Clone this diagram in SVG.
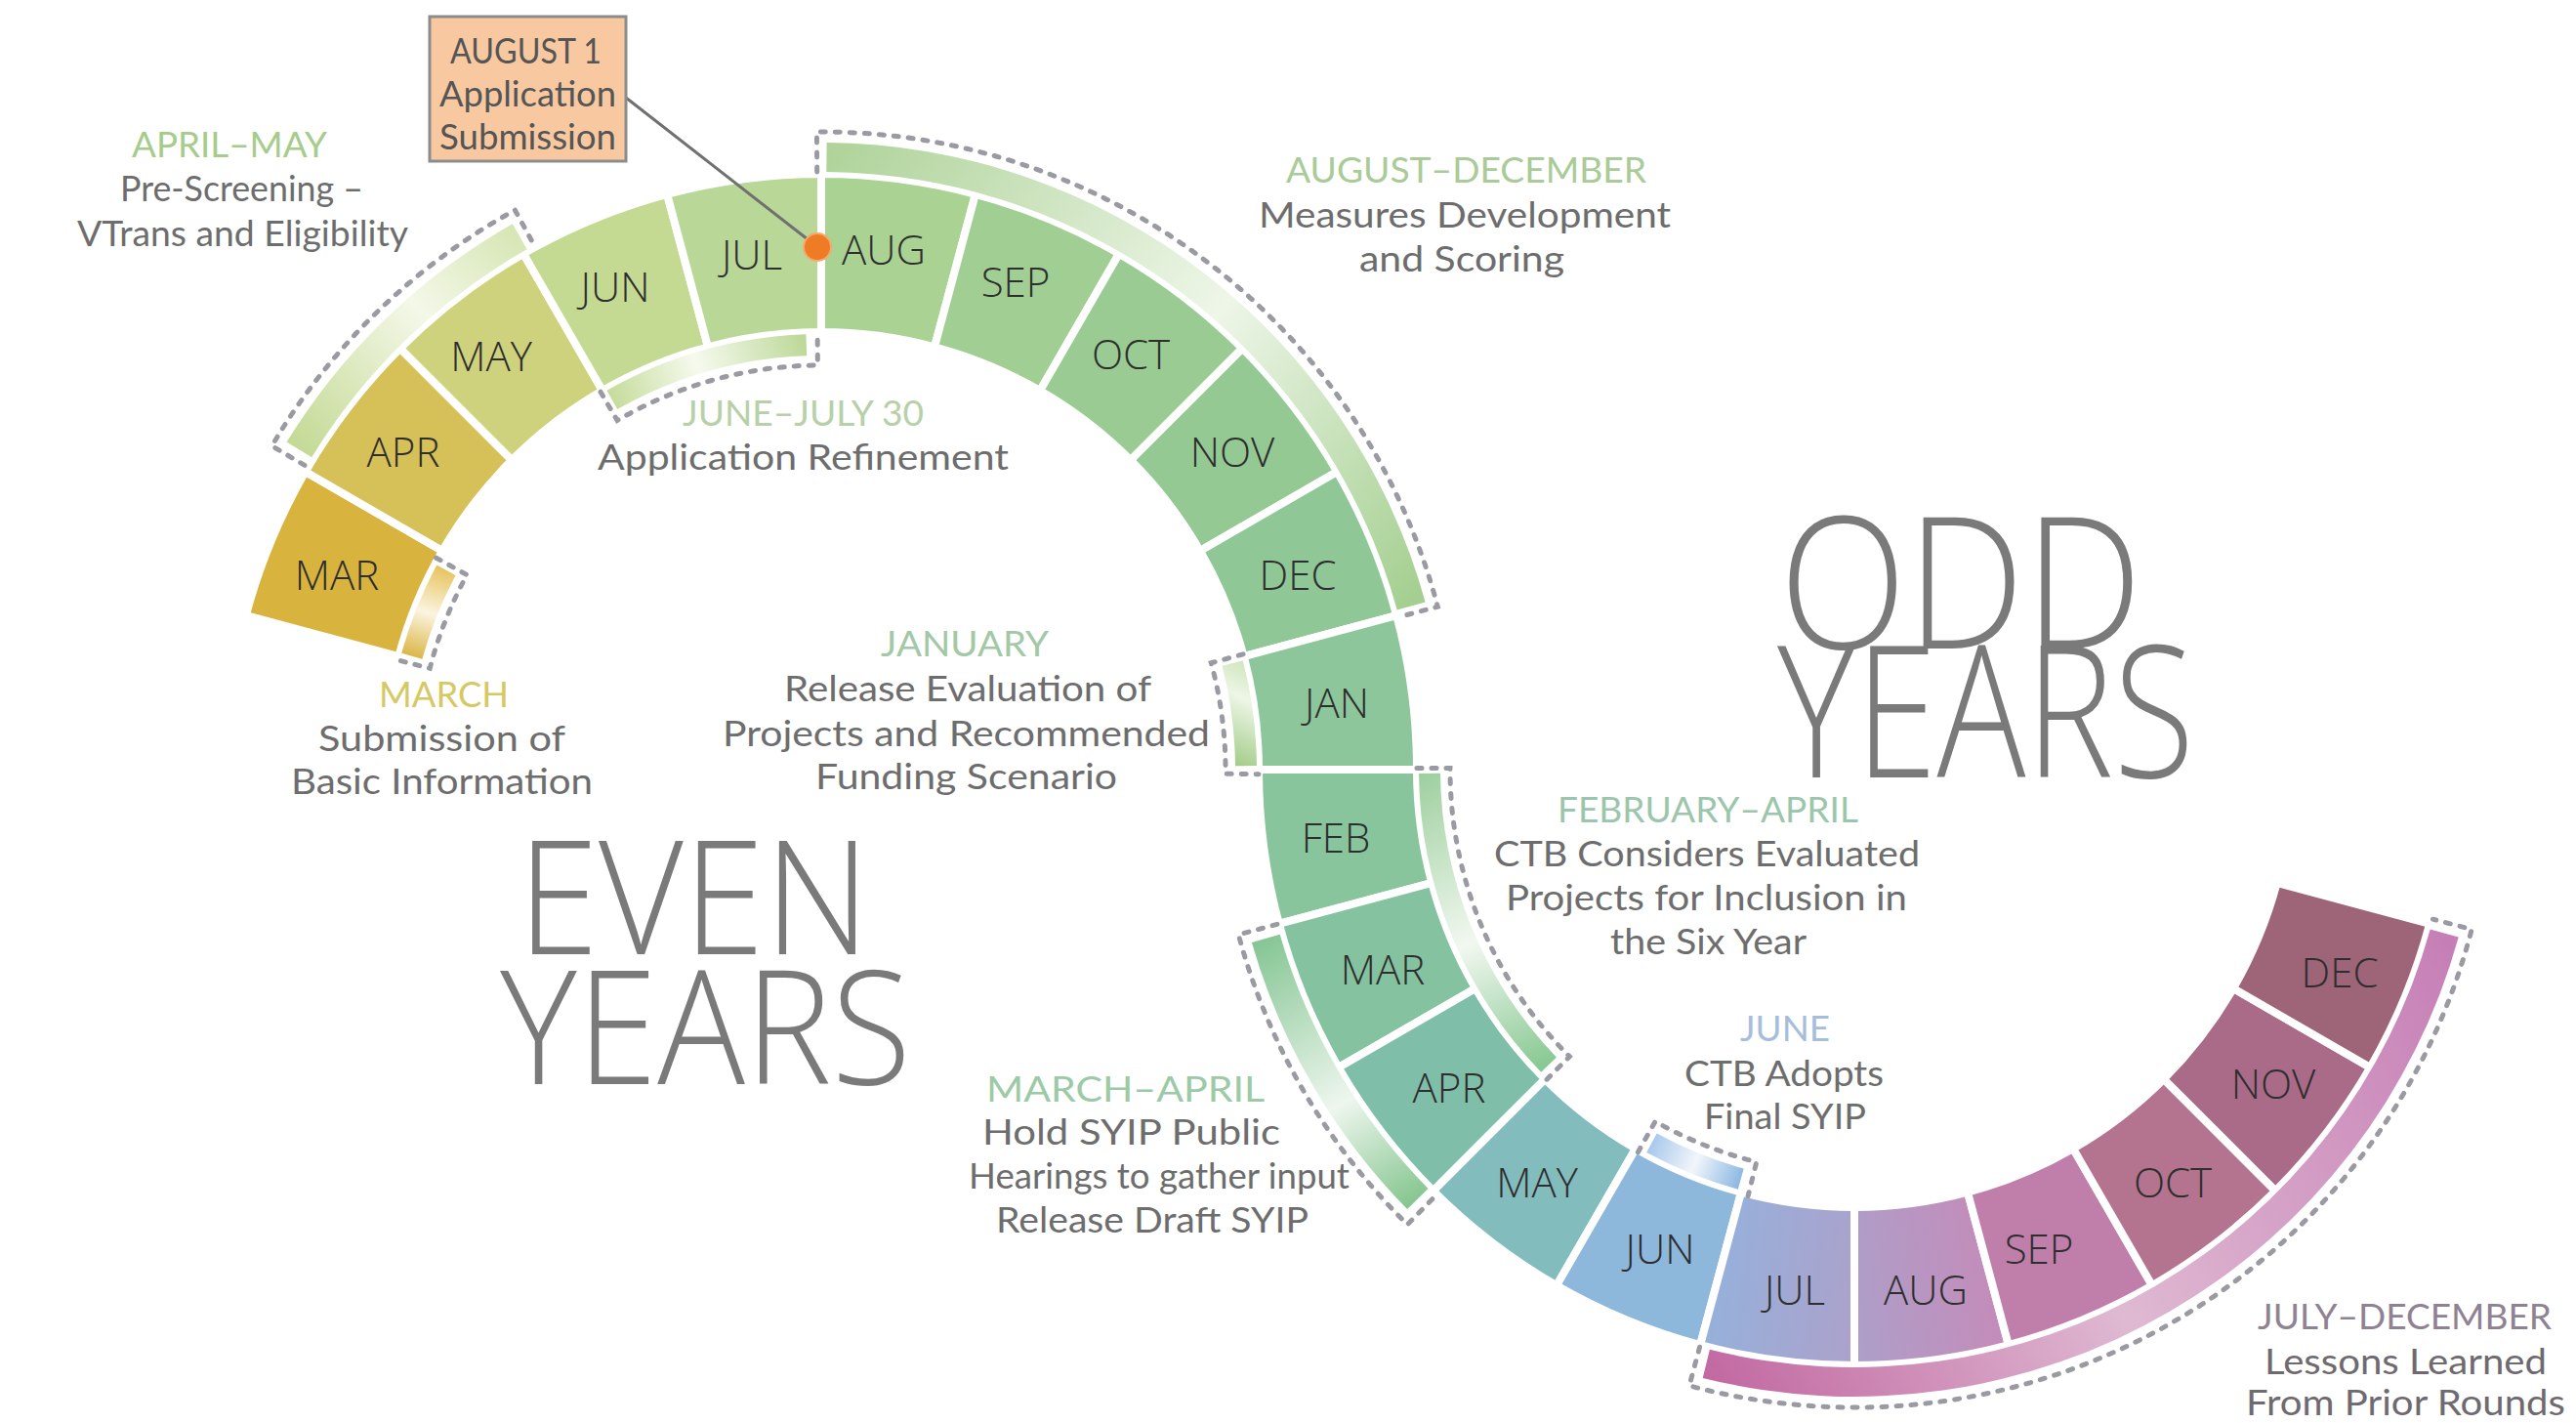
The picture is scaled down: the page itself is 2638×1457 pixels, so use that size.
<svg xmlns="http://www.w3.org/2000/svg" width="2638" height="1457" viewBox="0 0 2638 1457">
<style>
.seg{stroke:#fff;stroke-width:8;stroke-linejoin:miter}
.mon{font-family:"Open Sans","Noto Sans",sans-serif;font-weight:300;font-size:42px;fill:#2e2e2e;text-anchor:middle}
.dash{fill:none;stroke:#9a9ba2;stroke-width:5;stroke-dasharray:5 10;stroke-linecap:round}
.t{font-family:Lato,"Open Sans",sans-serif;font-size:37px;fill:#6d6d6d}
.hg{fill:#a6cc8c}
.big{font-family:"Open Sans","Noto Sans",sans-serif;font-weight:300;fill:#7a7a7a}
</style>
<defs>
<linearGradient id="gAprMay" gradientUnits="userSpaceOnUse" x1="300" y1="460" x2="532" y2="240"><stop offset="0" stop-color="#c3d993"/><stop offset="0.6" stop-color="#f4f8e8"/><stop offset="1" stop-color="#d6e6b4"/></linearGradient>
<linearGradient id="gJunJul" gradientUnits="userSpaceOnUse" x1="627" y1="410" x2="826" y2="353"><stop offset="0" stop-color="#c6dc9c"/><stop offset="0.45" stop-color="#f6faee"/><stop offset="1" stop-color="#bcd898"/></linearGradient>
<linearGradient id="gAugDec" gradientUnits="userSpaceOnUse" x1="846" y1="160" x2="1445" y2="620"><stop offset="0" stop-color="#afd39a"/><stop offset="0.55" stop-color="#eef6e8"/><stop offset="1" stop-color="#a4cf90"/></linearGradient>
<linearGradient id="gMarch" gradientUnits="userSpaceOnUse" x1="450" y1="578" x2="420" y2="675"><stop offset="0" stop-color="#e6c25a"/><stop offset="0.5" stop-color="#fbf4e0"/><stop offset="1" stop-color="#d9b13c"/></linearGradient>
<linearGradient id="gJan" gradientUnits="userSpaceOnUse" x1="1250" y1="780" x2="1290" y2="690"><stop offset="0" stop-color="#9fcb86"/><stop offset="0.7" stop-color="#eef6e6"/><stop offset="1" stop-color="#d4e9c4"/></linearGradient>
<linearGradient id="gFebApr" gradientUnits="userSpaceOnUse" x1="1464" y1="792" x2="1586" y2="1090"><stop offset="0" stop-color="#9fd0a0"/><stop offset="0.55" stop-color="#f2f8f0"/><stop offset="1" stop-color="#88c892"/></linearGradient>
<linearGradient id="gMarApr" gradientUnits="userSpaceOnUse" x1="1296" y1="961" x2="1452" y2="1228"><stop offset="0" stop-color="#86c694"/><stop offset="0.6" stop-color="#eef6ee"/><stop offset="1" stop-color="#86c690"/></linearGradient>
<linearGradient id="gJune" gradientUnits="userSpaceOnUse" x1="1691" y1="1170" x2="1783" y2="1207"><stop offset="0" stop-color="#a8c8ec"/><stop offset="0.5" stop-color="#f2f6fb"/><stop offset="1" stop-color="#8cb8e2"/></linearGradient>
<linearGradient id="gJulDec" gradientUnits="userSpaceOnUse" x1="1747" y1="1396" x2="2503" y2="955"><stop offset="0" stop-color="#c26aa2"/><stop offset="0.45" stop-color="#dfb9d2"/><stop offset="1" stop-color="#c67fb6"/></linearGradient>
<linearGradient id="gOddJul" gradientUnits="userSpaceOnUse" x1="1740" y1="1300" x2="1899" y2="1320"><stop offset="0" stop-color="#94b2dc"/><stop offset="1" stop-color="#aaa2cc"/></linearGradient>
<linearGradient id="gOddAug" gradientUnits="userSpaceOnUse" x1="1899" y1="1320" x2="2057" y2="1300"><stop offset="0" stop-color="#ae9ec8"/><stop offset="1" stop-color="#c68ab8"/></linearGradient>
</defs>
<rect width="2638" height="1457" fill="#ffffff"/>

<!-- Even years ring -->
<g id="even-mar"><path class="seg" fill="#d8b43e" d="M 251.8 630.1 A 610 610 0 0 1 312.7 483.0 L 453.0 564.0 A 448 448 0 0 0 408.3 672.1 Z"/><text class="mon" x="345" y="604">MAR</text></g>
<g id="even-apr"><path class="seg" fill="#d6c058" d="M 312.7 483.0 A 610 610 0 0 1 409.7 356.7 L 524.2 471.2 A 448 448 0 0 0 453.0 564.0 Z"/><text class="mon" x="413" y="478">APR</text></g>
<g id="even-may"><path class="seg" fill="#cfd27c" d="M 409.7 356.7 A 610 610 0 0 1 536.0 259.7 L 617.0 400.0 A 448 448 0 0 0 524.2 471.2 Z"/><text class="mon" x="503" y="380">MAY</text></g>
<g id="even-jun"><path class="seg" fill="#c4da92" d="M 536.0 259.7 A 610 610 0 0 1 683.1 198.8 L 725.0 355.3 A 448 448 0 0 0 617.0 400.0 Z"/><text class="mon" x="630" y="309">JUN</text></g>
<g id="even-jul"><path class="seg" fill="#b9d797" d="M 683.1 198.8 A 610 610 0 0 1 841 178 L 841 340 A 448 448 0 0 0 725.0 355.3 Z"/><text class="mon" x="770" y="276">JUL</text></g>
<g id="even-aug"><path class="seg" fill="#aad293" d="M 841 178 A 610 610 0 0 1 998.9 198.8 L 957.0 355.3 A 448 448 0 0 0 841 340 Z"/><text class="mon" x="905" y="271">AUG</text></g>
<g id="even-sep"><path class="seg" fill="#a1ce93" d="M 998.9 198.8 A 610 610 0 0 1 1146.0 259.7 L 1065.0 400.0 A 448 448 0 0 0 957.0 355.3 Z"/><text class="mon" x="1040" y="304">SEP</text></g>
<g id="even-oct"><path class="seg" fill="#99cb93" d="M 1146.0 259.7 A 610 610 0 0 1 1272.3 356.7 L 1157.8 471.2 A 448 448 0 0 0 1065.0 400.0 Z"/><text class="mon" x="1158" y="378">OCT</text></g>
<g id="even-nov"><path class="seg" fill="#94c994" d="M 1272.3 356.7 A 610 610 0 0 1 1369.3 483.0 L 1229.0 564.0 A 448 448 0 0 0 1157.8 471.2 Z"/><text class="mon" x="1262" y="478">NOV</text></g>
<g id="even-dec"><path class="seg" fill="#90c796" d="M 1369.3 483.0 A 610 610 0 0 1 1430.2 630.1 L 1273.7 672.1 A 448 448 0 0 0 1229.0 564.0 Z"/><text class="mon" x="1329" y="604">DEC</text></g>
<g id="even-jan"><path class="seg" fill="#8cc69a" d="M 1430.2 630.1 A 610 610 0 0 1 1451 788 L 1289 788 A 448 448 0 0 0 1273.7 672.1 Z"/><text class="mon" x="1369" y="735">JAN</text></g>

<!-- Odd years ring -->
<g id="odd-feb"><path class="seg" fill="#89c59c" d="M 1289 788 A 610 610 0 0 0 1309.8 945.9 L 1466.3 904.0 A 448 448 0 0 1 1451 788 Z"/><text class="mon" x="1368" y="873">FEB</text></g>
<g id="odd-mar"><path class="seg" fill="#84c2a0" d="M 1309.8 945.9 A 610 610 0 0 0 1370.7 1093 L 1511.0 1012 A 448 448 0 0 1 1466.3 904.0 Z"/><text class="mon" x="1416" y="1008">MAR</text></g>
<g id="odd-apr"><path class="seg" fill="#7fbea8" d="M 1370.7 1093 A 610 610 0 0 0 1467.7 1219.3 L 1582.2 1104.8 A 448 448 0 0 1 1511.0 1012 Z"/><text class="mon" x="1484" y="1129">APR</text></g>
<g id="odd-may"><path class="seg" fill="#82bcbc" d="M 1467.7 1219.3 A 610 610 0 0 0 1594 1316.3 L 1675 1176.0 A 448 448 0 0 1 1582.2 1104.8 Z"/><text class="mon" x="1574" y="1226">MAY</text></g>
<g id="odd-jun"><path class="seg" fill="#8db8dc" d="M 1594 1316.3 A 610 610 0 0 0 1741.1 1377.2 L 1783.1 1220.7 A 448 448 0 0 1 1675 1176.0 Z"/><text class="mon" x="1700" y="1294">JUN</text></g>
<g id="odd-jul"><path class="seg" fill="url(#gOddJul)" d="M 1741.1 1377.2 A 610 610 0 0 0 1899 1398 L 1899 1236 A 448 448 0 0 1 1783.1 1220.7 Z"/><text class="mon" x="1838" y="1336">JUL</text></g>
<g id="odd-aug"><path class="seg" fill="url(#gOddAug)" d="M 1899 1398 A 610 610 0 0 0 2056.9 1377.2 L 2015.0 1220.7 A 448 448 0 0 1 1899 1236 Z"/><text class="mon" x="1972" y="1336">AUG</text></g>
<g id="odd-sep"><path class="seg" fill="#c07fab" d="M 2056.9 1377.2 A 610 610 0 0 0 2204 1316.3 L 2123 1176.0 A 448 448 0 0 1 2015.0 1220.7 Z"/><text class="mon" x="2088" y="1294">SEP</text></g>
<g id="odd-oct"><path class="seg" fill="#b47490" d="M 2204 1316.3 A 610 610 0 0 0 2330.3 1219.3 L 2215.8 1104.8 A 448 448 0 0 1 2123 1176.0 Z"/><text class="mon" x="2225" y="1226">OCT</text></g>
<g id="odd-nov"><path class="seg" fill="#aa6b88" d="M 2330.3 1219.3 A 610 610 0 0 0 2427.3 1093 L 2287.0 1012 A 448 448 0 0 1 2215.8 1104.8 Z"/><text class="mon" x="2328" y="1125">NOV</text></g>
<g id="odd-dec"><path class="seg" fill="#9e6579" d="M 2427.3 1093 A 610 610 0 0 0 2488.2 945.9 L 2331.7 904.0 A 448 448 0 0 1 2287.0 1012 Z"/><text class="mon" x="2396" y="1011">DEC</text></g>

<!-- Phase bands with labels -->
<g id="phase-april-may">
<path fill="url(#gAprMay)" d="M 293.6 452.6 A 642 642 0 0 1 524.9 229.2 L 539.6 255.3 A 612 612 0 0 0 319.2 468.2 Z"/>
<path class="dash" d="M 312.0 476.4 L 278.4 456.6 A 653 653 0 0 1 527.4 215.2 L 546.1 249.4"/>
<text class="t hg" x="135" y="161" textLength="200" lengthAdjust="spacingAndGlyphs">APRIL–MAY</text>
<text class="t" x="123" y="206" textLength="249" lengthAdjust="spacingAndGlyphs">Pre-Screening –</text>
<text class="t" x="79" y="252" textLength="339" lengthAdjust="spacingAndGlyphs">VTrans and Eligibility</text>
</g>
<g id="phase-june-july">
<path fill="url(#gJunJul)" d="M 621.4 399.8 A 446 446 0 0 1 825.4 342.3 L 826.2 364.3 A 424 424 0 0 0 632.2 419.0 Z"/>
<path class="dash" d="M 615.0 401.2 L 632.1 430.5 A 414 414 0 0 1 837.4 374.0 L 837.1 340.0"/>
<text class="t" x="699" y="436" textLength="247" lengthAdjust="spacingAndGlyphs" style="fill:#b8d0a8">JUNE–JULY 30</text>
<text class="t" x="612" y="481" textLength="421" lengthAdjust="spacingAndGlyphs">Application Refinement</text>
</g>
<g id="phase-aug-dec">
<path fill="url(#gAugDec)" d="M 846.6 146.0 A 642 642 0 0 1 1459.6 616.4 L 1430.7 624.5 A 612 612 0 0 0 846.3 176.0 Z"/>
<path class="dash" d="M 836.7 176.0 L 836.4 135.0 A 653 653 0 0 1 1472.3 621.2 L 1432.7 631.7"/>
<text class="t" x="1317" y="187" textLength="369" lengthAdjust="spacingAndGlyphs" style="fill:#a9cb98">AUGUST–DECEMBER</text>
<text class="t" x="1289" y="233" textLength="422" lengthAdjust="spacingAndGlyphs">Measures Development</text>
<text class="t" x="1392" y="278" textLength="210" lengthAdjust="spacingAndGlyphs">and Scoring</text>
</g>
<g id="phase-march">
<path fill="url(#gMarch)" d="M 447.2 578.6 A 446 446 0 0 0 411.2 668.8 L 432.4 674.7 A 424 424 0 0 1 466.6 588.9 Z"/>
<path class="dash" d="M 446.7 571.2 L 478.2 588.6 A 414 414 0 0 0 440.2 684.3 L 405.3 675.3"/>
<text class="t" x="388" y="724" textLength="133" lengthAdjust="spacingAndGlyphs" style="fill:#d6c863">MARCH</text>
<text class="t" x="326" y="769" textLength="253" lengthAdjust="spacingAndGlyphs">Submission of</text>
<text class="t" x="298" y="813" textLength="309" lengthAdjust="spacingAndGlyphs">Basic Information</text>
</g>
<g id="phase-january">
<path fill="url(#gJan)" d="M 1272.8 676.3 A 446 446 0 0 1 1287.0 784.1 L 1265.0 784.3 A 424 424 0 0 0 1251.5 681.8 Z"/>
<path class="dash" d="M 1273.1 669.8 L 1240.3 678.8 A 414 414 0 0 1 1255.0 792.3 L 1289.0 792.7"/>
<text class="t" x="902" y="672" textLength="172" lengthAdjust="spacingAndGlyphs" style="fill:#a3c8a6">JANUARY</text>
<text class="t" x="803" y="718" textLength="376" lengthAdjust="spacingAndGlyphs">Release Evaluation of</text>
<text class="t" x="740" y="764" textLength="499" lengthAdjust="spacingAndGlyphs">Projects and Recommended</text>
<text class="t" x="835" y="808" textLength="309" lengthAdjust="spacingAndGlyphs">Funding Scenario</text>
</g>
<g id="phase-feb-april">
<path fill="url(#gFebApr)" d="M 1453.0 791.9 A 446 446 0 0 0 1578.2 1097.8 L 1594.0 1082.5 A 424 424 0 0 1 1475.0 791.7 Z"/>
<path class="dash" d="M 1451.0 786.5 L 1485.0 786.5 A 414 414 0 0 0 1607.3 1081.8 L 1583.3 1105.9"/>
<text class="t" x="1595" y="842" textLength="308" lengthAdjust="spacingAndGlyphs" style="fill:#9cc6ac">FEBRUARY–APRIL</text>
<text class="t" x="1530" y="887" textLength="436" lengthAdjust="spacingAndGlyphs">CTB Considers Evaluated</text>
<text class="t" x="1542" y="932" textLength="411" lengthAdjust="spacingAndGlyphs">Projects for Inclusion in</text>
<text class="t" x="1649" y="977" textLength="201" lengthAdjust="spacingAndGlyphs">the Six Year</text>
</g>
<g id="phase-march-april">
<path fill="url(#gMarApr)" d="M 1281.9 965.0 A 642 642 0 0 0 1441.1 1238.0 L 1462.5 1217.0 A 612 612 0 0 1 1310.7 956.7 Z"/>
<path class="dash" d="M 1307.9 946.4 L 1268.3 957.0 A 653 653 0 0 0 1441.3 1253.8 L 1470.0 1224.5"/>
<text class="t" x="1010" y="1128" textLength="285" lengthAdjust="spacingAndGlyphs" style="fill:#9ccaa6">MARCH–APRIL</text>
<text class="t" x="1006" y="1172" textLength="305" lengthAdjust="spacingAndGlyphs">Hold SYIP Public</text>
<text class="t" x="992" y="1217" textLength="390" lengthAdjust="spacingAndGlyphs">Hearings to gather input</text>
<text class="t" x="1020" y="1262" textLength="320" lengthAdjust="spacingAndGlyphs">Release Draft SYIP</text>
</g>
<g id="phase-june">
<path fill="url(#gJune)" d="M 1696.7 1160.6 A 424 424 0 0 0 1785.7 1196.6 L 1779.8 1217.8 A 446 446 0 0 1 1686.2 1180.0 Z"/>
<path class="dash" d="M 1677.4 1179.7 L 1695.1 1148.3 A 414 414 0 0 0 1798.8 1189.7 L 1790.1 1224.6"/>
<text class="t" x="1782" y="1066" textLength="92" lengthAdjust="spacingAndGlyphs" style="fill:#a6bedc">JUNE</text>
<text class="t" x="1725" y="1112" textLength="204" lengthAdjust="spacingAndGlyphs">CTB Adopts</text>
<text class="t" x="1745" y="1156" textLength="166" lengthAdjust="spacingAndGlyphs">Final SYIP</text>
</g>
<g id="phase-july-december">
<path fill="url(#gJulDec)" d="M 1743.7 1410.9 A 642 642 0 0 0 2517.7 959.6 L 2488.7 951.6 A 612 612 0 0 1 1750.9 1381.8 Z"/>
<path class="dash" d="M 1740.6 1379.2 L 1730.0 1418.8 A 653 653 0 0 0 2531.2 951.5 L 2491.5 941.2"/>
<text class="t" x="2312" y="1361" textLength="301" lengthAdjust="spacingAndGlyphs" style="fill:#8f8292">JULY–DECEMBER</text>
<text class="t" x="2319" y="1407" textLength="289" lengthAdjust="spacingAndGlyphs" style="fill:#6e6a70">Lessons Learned</text>
<text class="t" x="2300" y="1449" textLength="327" lengthAdjust="spacingAndGlyphs" style="fill:#6e6a70">From Prior Rounds</text>
</g>

<!-- Big titles -->
<g id="title-even">
<text class="big" x="530" y="977" font-size="162" textLength="361" lengthAdjust="spacingAndGlyphs">EVEN</text>
<text class="big" x="512" y="1110" font-size="162" textLength="421" lengthAdjust="spacingAndGlyphs">YEARS</text>
</g>
<g id="title-odd">
<text class="big" x="1822" y="664" font-size="188" textLength="372" lengthAdjust="spacingAndGlyphs">ODD</text>
<text class="big" x="1820" y="796" font-size="188" textLength="427" lengthAdjust="spacingAndGlyphs">YEARS</text>
</g>

<!-- Connector -->
<g id="connectors">
<line x1="641" y1="100" x2="836" y2="252" stroke="#707070" stroke-width="3"/>
</g>

<!-- August 1 callout -->
<g id="august-1">
<rect x="440" y="17" width="201" height="148" fill="#f8c9a1" stroke="#8c8c8c" stroke-width="3"/>
<text class="t" x="461" y="65" textLength="155" lengthAdjust="spacingAndGlyphs" style="fill:#555">AUGUST 1</text>
<text class="t" x="450" y="109" textLength="181" lengthAdjust="spacingAndGlyphs" style="fill:#555">Application</text>
<text class="t" x="450" y="153" textLength="181" lengthAdjust="spacingAndGlyphs" style="fill:#555">Submission</text>
</g>
<g id="aug1-dot"><circle cx="837" cy="253" r="14" fill="#ef7c24" stroke="#f6a870" stroke-width="2"/></g>
</svg>
